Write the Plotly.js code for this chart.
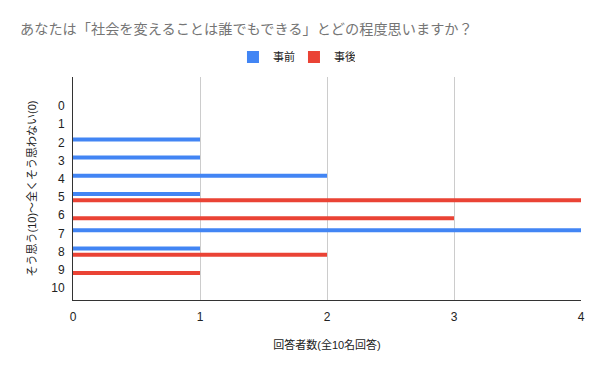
<!DOCTYPE html>
<html><head><meta charset="utf-8">
<script src="https://cdn.plot.ly/plotly-3.0.1.min.js"></script>
<style>html,body{margin:0;padding:0;background:#fff}#chart{width:600px;height:371px}</style>
</head><body><div id="chart"></div>
<script>
const categories = [0,1,2,3,4,5,6,7,8,9,10];
const tickLabels = ["0","1","2","3","4","5","6","7","8","9","10"];
const before = [0,0,1,1,2,1,0,4,1,0,0];
const after = [0,0,0,0,0,4,3,0,2,1,0];
const seriesNames = ["事前","事後"];
const FONT = "'Liberation Sans', Arial, 'Noto Sans CJK JP', sans-serif";

const traces = [
  {type:'bar', orientation:'h', name:seriesNames[0], y:categories, x:before,
   width:0.22, offset:-0.28, marker:{color:'#4285F4'}, hoverinfo:'x+y'},
  {type:'bar', orientation:'h', name:seriesNames[1], y:categories, x:after,
   width:0.22, offset:0.06, marker:{color:'#EA4335'}, hoverinfo:'x+y'}
];
const layout = {
  width:600, height:371,
  margin:{l:73, r:19, t:77, b:71, pad:0},
  paper_bgcolor:'#fff', plot_bgcolor:'#fff',
  font:{family:FONT, size:12, color:'#222'},
  barmode:'overlay',
  showlegend:true,
  title:{text:'あなたは「社会を変えることは誰でもできる」とどの程度思いますか？',
    x:20/600, xanchor:'left', y:1-29/371, yanchor:'middle',
    font:{family:FONT, size:14.2, color:'#757575'}},
  legend:{orientation:'h', x:0.435, xanchor:'center', y:1.09, yanchor:'middle',
    font:{family:FONT, size:11, color:'#222'}, itemwidth:30, traceorder:'normal',
    entrywidth:16, entrywidthmode:'pixels'},
  xaxis:{range:[0,4], tickvals:[0,1,2,3,4], ticktext:['0','1','2','3','4'],
    showgrid:true, gridcolor:'#cccccc', gridwidth:1, zeroline:false,
    showline:true, linecolor:'#333', linewidth:1, ticks:'', ticklabelstandoff:6,
    tickfont:{size:12, color:'#222'},
    title:{text:'回答者数(全10名回答)', font:{size:11, color:'#222'}, standoff:17}},
  yaxis:{range:[10.66,-1.6], tickvals:categories, ticktext:tickLabels,
    showgrid:false, zeroline:false, showline:true, linecolor:'#333', linewidth:1,
    ticks:'', tickfont:{size:12, color:'#222'}, ticklabelstandoff:5,
    title:{text:'そう思う(10)～全くそう思わない(0)', font:{size:11, color:'#222'}, standoff:12}}
};
Plotly.newPlot('chart', traces, layout, {displayModeBar:false, staticPlot:true});
</script></body></html>
